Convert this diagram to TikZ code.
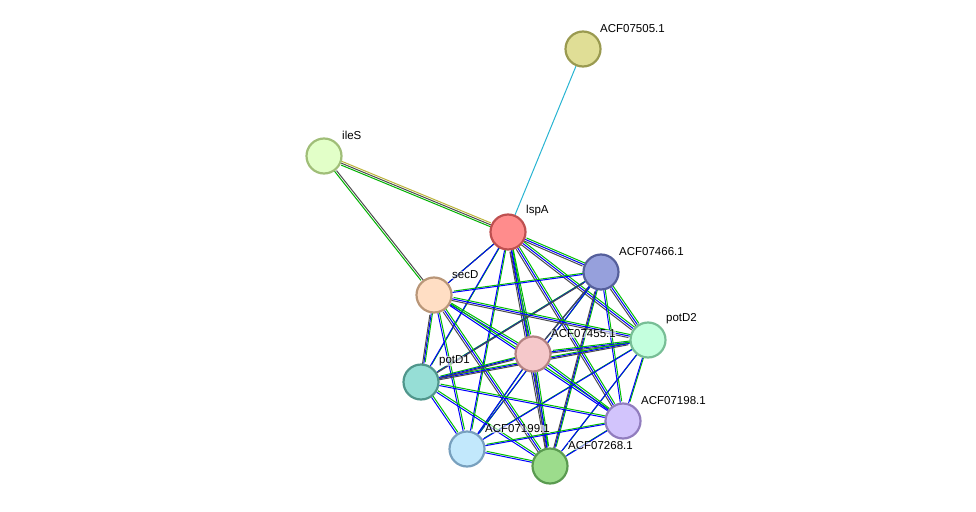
\documentclass[tikz,border=0pt]{standalone}
\usepackage{fontspec}
\setmainfont{Liberation Sans}
\usetikzlibrary{backgrounds}
\begin{document}
\begin{tikzpicture}[x=1pt,y=-1pt,
  prot/.style={circle,minimum size=35pt,inner sep=0pt,line width=2.2pt},
  lab/.style={font=\fontsize{11.5}{12}\selectfont,anchor=south west,inner sep=0pt,fill=white,fill opacity=0.6,text opacity=1},
  ln/.style={line width=1pt}]
\useasboundingbox (0,0) rectangle (976,511);
\definecolor{cA}{HTML}{E0DE96}\definecolor{bA}{HTML}{9A9A50}
\node[prot,fill=cA,draw=bA] (a505) at (583,49) {};
\node[prot,fill={rgb,255:red,226;green,255;blue,200},draw={rgb,255:red,160;green,190;blue,120}] (ileS) at (324,156) {};
\node[prot,fill={rgb,255:red,255;green,140;blue,140},draw={rgb,255:red,190;green,80;blue,80}] (lspA) at (508,232) {};
\node[prot,fill={rgb,255:red,150;green,160;blue,220},draw={rgb,255:red,85;green,95;blue,155}] (a466) at (601,272) {};
\node[prot,fill={rgb,255:red,255;green,222;blue,196},draw={rgb,255:red,185;green,150;blue,120}] (secD) at (434,295) {};
\node[prot,fill={rgb,255:red,196;green,255;blue,222},draw={rgb,255:red,120;green,190;blue,150}] (potD2) at (648,340) {};
\node[prot,fill={rgb,255:red,245;green,200;blue,202},draw={rgb,255:red,180;green,130;blue,130}] (a455) at (533,354) {};
\node[prot,fill={rgb,255:red,150;green,222;blue,214},draw={rgb,255:red,80;green,150;blue,140}] (potD1) at (421,382) {};
\node[prot,fill={rgb,255:red,210;green,196;blue,252},draw={rgb,255:red,145;green,125;blue,190}] (a198) at (623,421) {};
\node[prot,fill={rgb,255:red,194;green,232;blue,252},draw={rgb,255:red,120;green,160;blue,190}] (a199) at (467,449) {};
\node[prot,fill={rgb,255:red,156;green,220;blue,140},draw={rgb,255:red,90;green,155;blue,80}] (a268) at (550,466) {};
\begin{scope}[on background layer]
\draw[ln,color={rgb,255:red,40;green,180;blue,210}] (a505) -- (lspA);
\draw[ln,green!70!black,transform canvas={shift={(0pt,-2pt)}}] (ileS) -- (lspA);
\draw[ln,black!70] (ileS) -- (lspA);
\draw[ln,yellow!70!black,transform canvas={shift={(0pt,2pt)}}] (ileS) -- (lspA);
\draw[ln,green!70!black,transform canvas={shift={(-1.5pt,0pt)}}] (ileS) -- (secD);
\draw[ln,black!70,transform canvas={shift={(1pt,0pt)}}] (ileS) -- (secD);
\draw[ln,yellow!70!black] (secD) -- (lspA);
\foreach \u/\v/\k in {lspA/a466/1,lspA/secD/0,lspA/potD2/1,lspA/a455/1,lspA/potD1/0,lspA/a198/1,lspA/a199/0,lspA/a268/1,
 a466/secD/0,a466/potD2/1,a466/a455/1,a466/potD1/1,a466/a198/0,a466/a199/0,a466/a268/1,
 secD/potD2/1,secD/a455/0,secD/potD1/1,secD/a198/0,secD/a199/0,secD/a268/1,
 potD2/a455/1,potD2/potD1/1,potD2/a198/0,potD2/a199/0,potD2/a268/0,
 a455/potD1/1,a455/a198/0,a455/a199/0,a455/a268/1,
 potD1/a198/0,potD1/a199/0,potD1/a268/0,
 a198/a199/0,a198/a268/0,a199/a268/0}{
  \draw[ln,green!75!black,transform canvas={shift={(1.4pt,1.4pt)}}] (\u) -- (\v);
  \draw[ln,blue] (\u) -- (\v);
  \ifnum\k=1 \draw[ln,black!70,transform canvas={shift={(-1.4pt,-1.4pt)}}] (\u) -- (\v);\fi
}
\end{scope}
\node[lab] at (600,33) {ACF07505.1};
\node[lab] at (342,140) {ileS};
\node[lab] at (526,216) {lspA};
\node[lab] at (619,256) {ACF07466.1};
\node[lab] at (452,279) {secD};
\node[lab] at (666,324) {potD2};
\node[lab] at (551,338) {ACF07455.1};
\node[lab] at (439,366) {potD1};
\node[lab] at (641,405) {ACF07198.1};
\node[lab] at (485,433) {ACF07199.1};
\node[lab] at (568,450) {ACF07268.1};
\end{tikzpicture}
\end{document}
